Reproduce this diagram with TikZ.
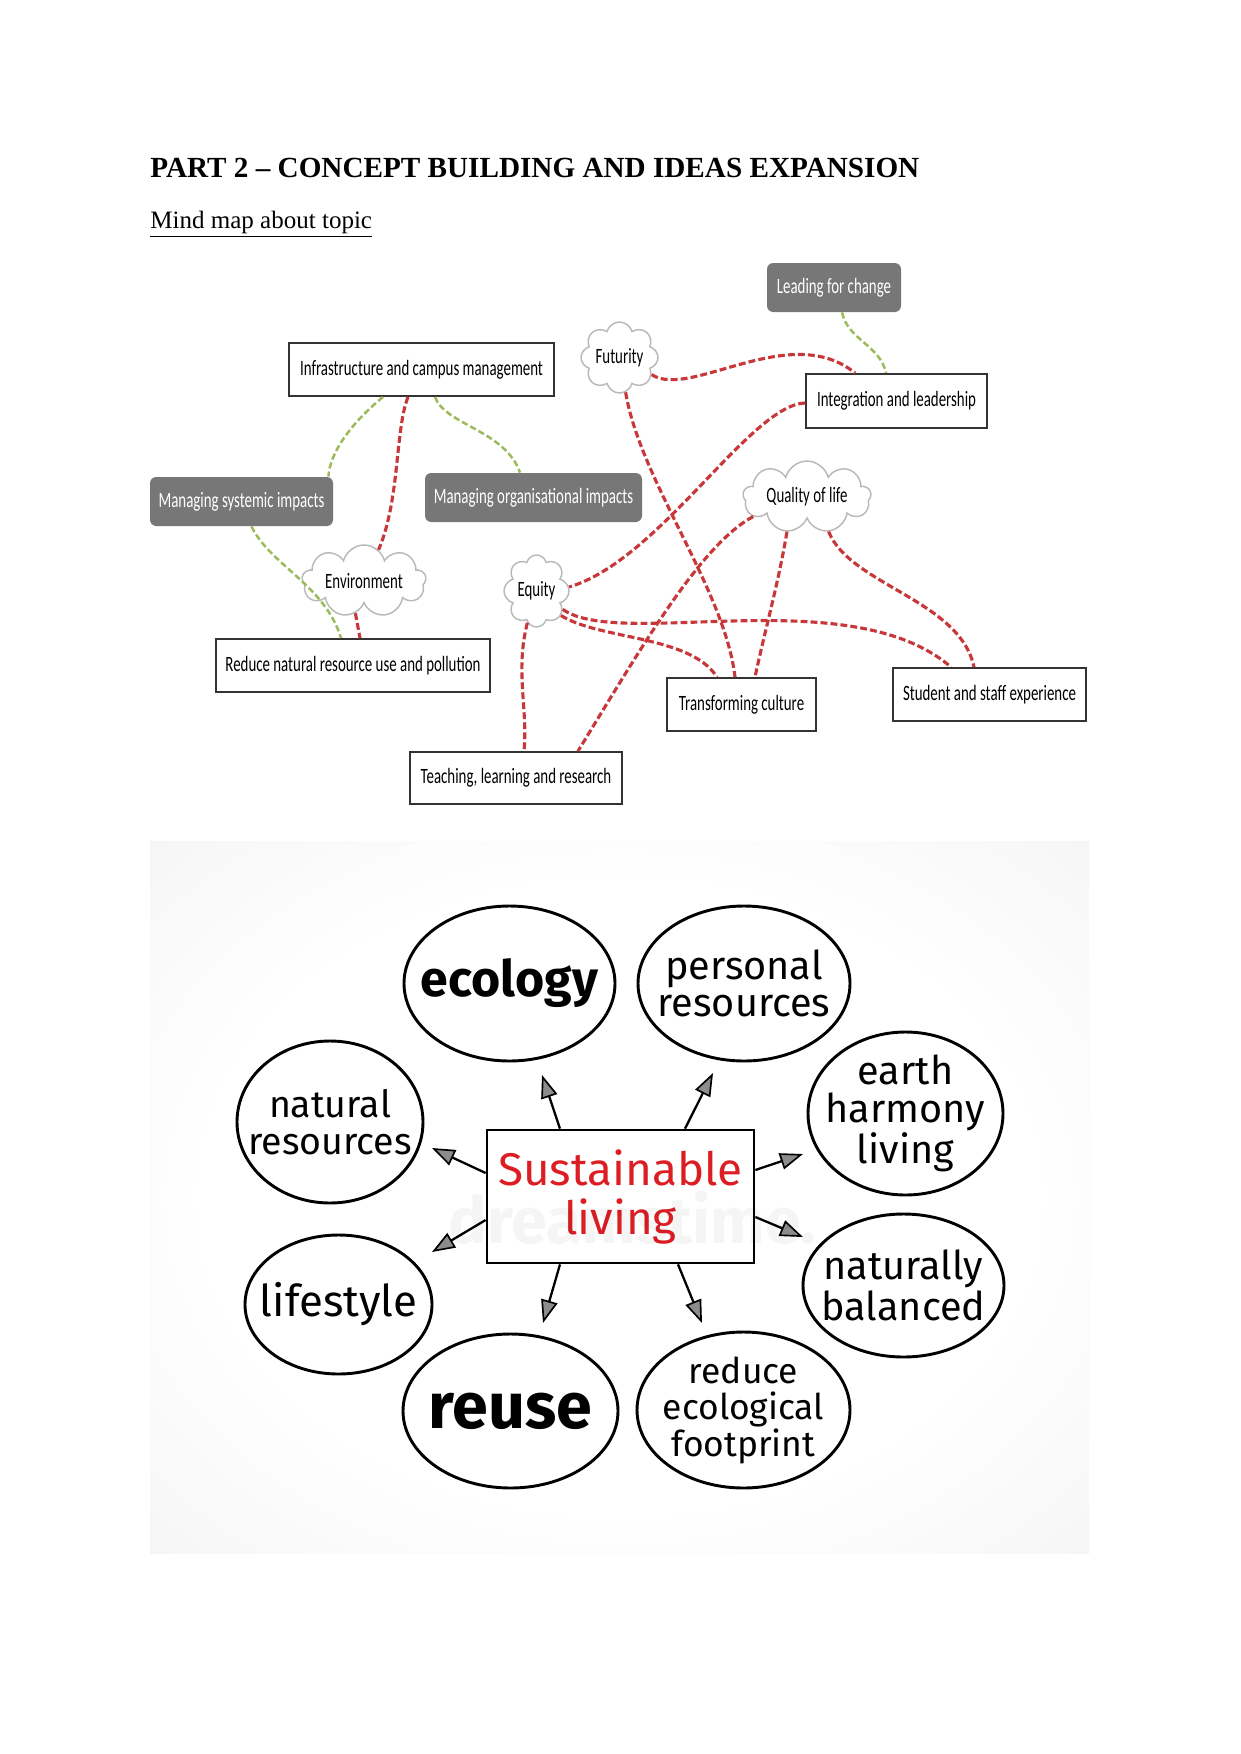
\documentclass[tikz,border=0pt]{standalone}
\usepackage{fontspec}
\setmainfont{Liberation Serif}
\newfontfamily\condf[FakeStretch=0.68]{Carlito}
\newfontfamily\handf{Fira Sans}
\usetikzlibrary{shapes.geometric,shapes.symbols,arrows.meta,calc}
\definecolor{dred}{HTML}{C8383A}
\definecolor{lgreen}{HTML}{9DBB5A}
\definecolor{gboxc}{HTML}{777777}
\definecolor{sred}{HTML}{DC1E24}
\newcommand\pxu[1]{#1*0.4797pt}
\pgfdeclareradialshading{bgsoft}{\pgfpoint{0bp}{0bp}}{color(0bp)=(white); color(22bp)=(white); color(71bp)=(black!13)}

\begin{document}
\begin{tikzpicture}[x=0.4797pt,y=-0.4797pt,
  wbox/.style={draw=black!80, line width=0.9pt, fill=white, inner sep=0pt, font=\condf\fontsize{10.5}{12}\selectfont},
  gbox/.style={fill=gboxc, rounded corners=3pt, text=white, inner sep=0pt, font=\condf\fontsize{10.5}{12}\selectfont},
  cloudn/.style={cloud, cloud puffs=8, cloud ignores aspect, draw=gray!55, line width=0.7pt, fill=white, inner sep=0pt, font=\condf\fontsize{10.5}{12}\selectfont},
  redl/.style={draw=dred, line width=1.5pt, dash pattern=on 3.3pt off 1.5pt},
  grnl/.style={draw=lgreen, line width=1.2pt, dash pattern=on 3pt off 1.5pt},
  bub/.style={ellipse, draw=black, line width=1.4pt, inner sep=0pt},
  bubt/.style={inner sep=0pt, align=center, font=\handf\fontsize{19}{18}\selectfont},
  arr/.style={draw=black, line width=1.1pt, -{Triangle[length=11pt,width=8pt,fill=black!45,line width=0.8pt]}},
]
\fill[white] (0,0) rectangle (1241,1754);
\useasboundingbox (0,0) rectangle (1241,1754);

% headings
\node[anchor=base west, inner sep=0pt, font=\bfseries\fontsize{14}{16}\selectfont] (title) at (150,177) {PART 2 – CONCEPT BUILDING AND IDEAS EXPANSION};
\node[anchor=base west, inner sep=0pt, font=\fontsize{12}{14}\selectfont] (sub) at (150,228) {\underline{Mind map about topic}};

% top mind map nodes
\node[gbox, minimum width=\pxu{134}, minimum height=\pxu{49}] (lead) at (834,287.5) {Leading for change};
\node[wbox, minimum width=\pxu{265}, minimum height=\pxu{53}] (infra) at (421.5,369.5) {Infrastructure and campus management};
\node[cloudn, minimum width=\pxu{77}, minimum height=\pxu{71}] (fut) at (619.5,357.5) {Futurity};
\node[wbox, minimum width=\pxu{181}, minimum height=\pxu{54}] (integ) at (896.5,401) {Integration and leadership};
\node[gbox, minimum width=\pxu{183}, minimum height=\pxu{49}] (mansys) at (241.5,501.5) {Managing systemic impacts};
\node[gbox, minimum width=\pxu{217}, minimum height=\pxu{49}] (manorg) at (533.5,497.5) {Managing organisational impacts};
\node[cloudn, minimum width=\pxu{128}, minimum height=\pxu{72}, cloud puffs=9] (qual) at (807,497) {Quality of life};
\node[cloudn, minimum width=\pxu{124}, minimum height=\pxu{72}, cloud puffs=9] (env) at (364,581) {Environment};
\node[cloudn, minimum width=\pxu{65}, minimum height=\pxu{72}] (eq) at (536.5,591) {Equity};
\node[wbox, minimum width=\pxu{274}, minimum height=\pxu{53}] (reduce) at (353,665.5) {Reduce natural resource use and pollution};
\node[wbox, minimum width=\pxu{212}, minimum height=\pxu{52}] (teach) at (516,778) {Teaching, learning and research};
\node[wbox, minimum width=\pxu{149}, minimum height=\pxu{53}] (transf) at (741.5,704.5) {Transforming culture};
\node[wbox, minimum width=\pxu{193}, minimum height=\pxu{53}] (student) at (989.5,694.5) {Student and staff experience};

% green connectors
\draw[grnl] ($(infra.south)+(-38.5,0)$) .. controls (355,420) and (330,450) .. ($(mansys.north east)+(-5,0)$);
\draw[grnl] ($(infra.south)+(13.5,0)$) .. controls (445,425) and (505,430) .. ($(manorg.north)+(-13.5,0)$);
\draw[grnl] ($(mansys.south)+(10,0)$) .. controls (270,565) and (325,585) .. ($(reduce.north)+(-12,0)$);
\draw[grnl] ($(lead.south)+(8,0)$) .. controls (848,340) and (880,345) .. ($(integ.north)+(-10.5,0)$);

% red connectors
\draw[redl] ($(infra.south)+(-13.5,0)$) .. controls (395,430) and (400,500) .. (env.65);
\draw[redl] (env.255) -- ($(reduce.north)+(7,0)$);
\draw[redl] (fut.-28) .. controls (690,400) and (790,320) .. ($(integ.north west)+(50,0)$);
\draw[redl] (fut.-80) .. controls (640,480) and (725,590) .. ($(transf.north)+(-6.5,0)$);
\draw[redl] ($(integ.west)+(0,2)$) .. controls (750,405) and (660,560) .. (eq.7);
\draw[redl] (qual.200) .. controls (700,545) and (640,650) .. ($(teach.north)+(62,0)$);
\draw[redl] (qual.240) .. controls (778,585) and (765,630) .. ($(transf.north)+(13.5,0)$);
\draw[redl] (qual.-58) .. controls (850,585) and (960,600) .. ($(student.north)+(-15.5,0)$);
\draw[redl] (eq.-35) .. controls (620,650) and (850,580) .. ($(student.north)+(-38.5,0)$);
\draw[redl] (eq.-45) .. controls (600,640) and (690,635) .. ($(transf.north)+(-24.5,0)$);
\draw[redl] (eq.254) .. controls (515,670) and (528,710) .. ($(teach.north)+(8,0)$);

% bottom picture
\shade[shading=bgsoft] (150,841) rectangle (1089,1553);

\node[bub, minimum width=\pxu{211}, minimum height=\pxu{155}, label={[name=ecot, bubt, font=\handf\bfseries\fontsize{24}{24}\selectfont]center:ecology}] (eco) at (509.5,983.5) {};
\node[bub, minimum width=\pxu{212}, minimum height=\pxu{155}, label={[name=perst, bubt]center:{personal\\resources}}] (pers) at (744,983.5) {};
\node[bub, minimum width=\pxu{186}, minimum height=\pxu{162}, label={[name=natt, bubt, font=\handf\fontsize{18}{18}\selectfont]center:{natural\\resources}}] (nat) at (330,1122) {};
\node[bub, minimum width=\pxu{195}, minimum height=\pxu{163}, label={[name=eartht, bubt]center:{earth\\harmony\\living}}] (earth) at (905.5,1113.5) {};
\node[bub, minimum width=\pxu{187}, minimum height=\pxu{139}, label={[name=lifet, bubt, font=\handf\fontsize{21}{21}\selectfont]center:lifestyle}] (life) at (338.5,1304.5) {};
\node[bub, minimum width=\pxu{201}, minimum height=\pxu{143}, label={[name=natbt, bubt, font=\handf\fontsize{19}{20}\selectfont]center:{naturally\\balanced}}] (natb) at (903.5,1285.5) {};
\node[bub, minimum width=\pxu{215}, minimum height=\pxu{154}, label={[name=reuset, bubt, font=\handf\bfseries\fontsize{31}{31}\selectfont]center:reuse}] (reuse) at (510.5,1411) {};
\node[bub, minimum width=\pxu{213}, minimum height=\pxu{156}, label={[name=redut, bubt, font=\handf\fontsize{17}{17.5}\selectfont]center:{reduce\\ecological\\footprint}}] (redu) at (743.5,1410) {};

\node[draw=black, line width=1.3pt, fill=white, inner sep=0pt, minimum width=\pxu{267}, minimum height=\pxu{133}, align=center, text=sred, font=\handf\fontsize{22}{23.5}\selectfont] (sl) at (620.5,1196.5) {Sustainable\\living};

\draw[arr] ($(sl.north)+(-60.5,0)$) -- ($(eco)+(32.5,91.5)$);
\draw[arr] ($(sl.north)+(64.5,0)$) -- ($(pers)+(-31,89.5)$);
\draw[arr] ($(sl.west)+(0,-23.5)$) -- ($(nat)+(102,26)$);
\draw[arr] ($(sl.east)+(0,-26.5)$) -- ($(earth)+(-102.5,40.5)$);
\draw[arr] ($(sl.west)+(0,23.5)$) -- ($(life)+(93.5,-52.5)$);
\draw[arr] ($(sl.east)+(0,20.5)$) -- ($(natb)+(-100.5,-48.5)$);
\draw[arr] ($(sl.south)+(-60.5,0)$) -- ($(reuse)+(32.5,-88)$);
\draw[arr] ($(sl.south)+(57.5,0)$) -- ($(redu)+(-41.5,-87)$);

\node[text=black, opacity=0.04, font=\handf\bfseries\fontsize{31}{31}\selectfont] (wm) at (632,1218) {dreamstime.};
\end{tikzpicture}
\end{document}
